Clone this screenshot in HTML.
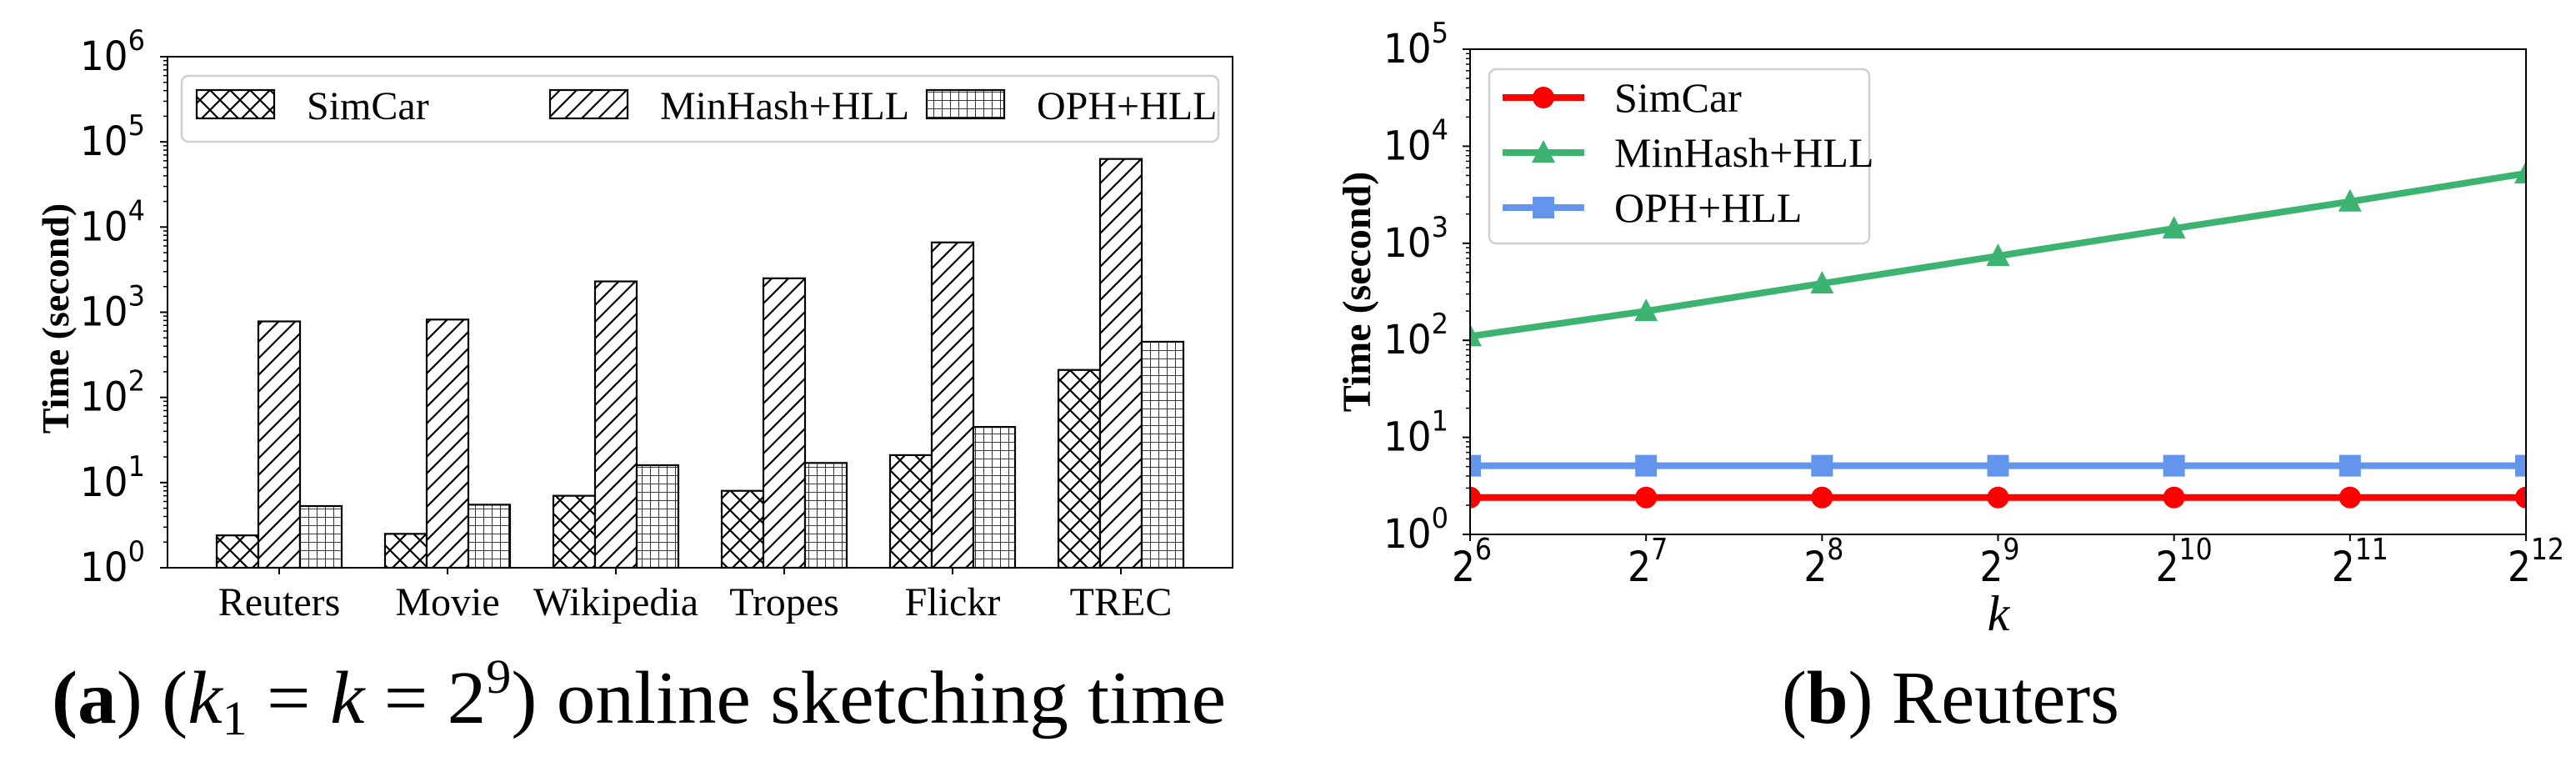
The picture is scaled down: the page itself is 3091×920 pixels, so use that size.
<!DOCTYPE html>
<html><head><meta charset="utf-8"><style>
html,body{margin:0;padding:0;background:#fff;}
svg{display:block;}
</style></head><body>
<svg id="root" width="3091" height="920" viewBox="0 0 3091 920" xmlns="http://www.w3.org/2000/svg">
<defs>
<pattern id="pat-cross" patternUnits="userSpaceOnUse" width="24" height="24">
<path d="M0,0 L24,24 M24,0 L0,24" stroke="#000" stroke-width="2.2"/>
</pattern>
<pattern id="pat-diag" patternUnits="userSpaceOnUse" width="20" height="20">
<path d="M-5,5 L5,-5 M0,20 L20,0 M15,25 L25,15" stroke="#000" stroke-width="2.2"/>
</pattern>
<pattern id="pat-grid" patternUnits="userSpaceOnUse" width="10" height="10">
<path d="M0,0 L10,0 M0,0 L0,10" stroke="#000" stroke-width="1.6"/>
</pattern>
<clipPath id="clipB"><rect x="1764" y="59" width="1267" height="582"/></clipPath>
</defs>
<g id="chartA"></g>
<g id="chartB"></g>
<text x="62" y="867" textLength="1409" lengthAdjust="spacingAndGlyphs" font-family="Liberation Serif, serif" font-size="90"><tspan font-weight="bold">(a</tspan>) (<tspan font-style="italic">k</tspan><tspan font-size="58" dy="14">1</tspan><tspan dy="-14"> = </tspan><tspan font-style="italic">k</tspan> = 2<tspan font-size="58" dy="-36">9</tspan><tspan dy="36">) online sketching time</tspan></text>
<text x="2138" y="867" textLength="405" lengthAdjust="spacingAndGlyphs" font-family="Liberation Serif, serif" font-size="90">(<tspan font-weight="bold">b</tspan>) Reuters</text>
</svg>
<script>
// ---- Chart A data ----
const catsA = ['Reuters','Movie','Wikipedia','Tropes','Flickr','TREC'];
const simcarA = [2.4, 2.5, 7, 8, 21, 210];
const minhashA = [780, 820, 2300, 2500, 6600, 63000];
const ophA = [5.3, 5.5, 16, 17, 45, 450];
const seriesNamesA = ['SimCar','MinHash+HLL','OPH+HLL'];
const yTicksA = [0,1,2,3,4,5,6];
// ---- Chart B data ----
const kExp = [6,7,8,9,10,11,12];
const simcarB = [2.4, 2.4, 2.4, 2.4, 2.4, 2.4, 2.4];
const minhashB = [110, 200, 385, 740, 1420, 2690, 5250];
const ophB = [5.1, 5.1, 5.1, 5.1, 5.1, 5.1, 5.1];
const yTicksB = [0,1,2,3,4,5];

const NS='http://www.w3.org/2000/svg';
function mk(tag, attrs, parent, txt){const e=document.createElementNS(NS,tag);for(const k in attrs)e.setAttribute(k,attrs[k]);if(txt!==undefined)e.textContent=txt;parent.appendChild(e);return e;}

// ---------- Chart A ----------
(function(){
const g=document.getElementById('chartA');
const L=201,R=1479,T=68,B=681;
const y=v=>B-(Math.log10(v)-0)*(B-T)/6;
const gx=i=>335+i*202;
const bw=50;
const pats=['url(#pat-cross)','url(#pat-diag)','url(#pat-grid)'];
const data=[simcarA,minhashA,ophA];
data.forEach((arr,s)=>{arr.forEach((v,i)=>{
  const x=gx(i)+(s-1)*bw-bw/2;
  const bg=mk('rect',{x:x,y:y(v),width:bw,height:B-y(v),fill:'#fff',stroke:'none'},g);
  
  
  const r=mk('rect',{x:x,y:y(v),width:bw,height:B-y(v),fill:pats[s],stroke:'#000','stroke-width':2.2},g);
  
  
});});
const frame=mk('rect',{x:L,y:T,width:R-L,height:B-T,fill:'none',stroke:'#000','stroke-width':2},g);


yTicksA.forEach(e=>{
  const yy=y(Math.pow(10,e));
  mk('line',{x1:L-9,x2:L,y1:yy,y2:yy,stroke:'#000','stroke-width':2},g);
  const t=mk('text',{x:96,y:yy+16,textLength:78,lengthAdjust:'spacingAndGlyphs','font-family':'DejaVu Sans, sans-serif','font-size':48},g);
  
  
  mk('tspan',{},t,'10');
  mk('tspan',{'font-size':34,dy:-24},t,String(e));
  if(e<6){for(let m=2;m<10;m++){const ym=y(m*Math.pow(10,e));mk('line',{x1:L-5,x2:L,y1:ym,y2:ym,stroke:'#000','stroke-width':1.5},g);}}
});
catsA.forEach((c,i)=>{
  mk('line',{x1:gx(i),x2:gx(i),y1:B,y2:B+8,stroke:'#000','stroke-width':2},g);
  const t=mk('text',{x:gx(i),y:738,'text-anchor':'middle','font-family':'Liberation Serif, serif','font-size':48},g,c);
  
  
});
const yt=mk('text',{x:0,y:0,transform:'translate(82,382) rotate(-90)','text-anchor':'middle','font-family':'Liberation Serif, serif','font-size':46,'font-weight':'bold'},g,'Time (second)');


const lg=mk('g',{},g);


mk('rect',{x:218,y:91,width:1244,height:79,rx:8,fill:'#fff',stroke:'#d0d0d0','stroke-width':2.5},lg);
const lx=[236,660,1112];
seriesNamesA.forEach((n,s)=>{
  const le=mk('g',{},lg);
  
  
  mk('rect',{x:lx[s],y:108,width:93,height:34,fill:'#fff'},le);
  mk('rect',{x:lx[s],y:108,width:93,height:34,fill:pats[s],stroke:'#000','stroke-width':2.2},le);
  mk('text',{x:lx[s]+132,y:143,'font-family':'Liberation Serif, serif','font-size':48},le,n);
});
})();

// ---------- Chart B ----------
(function(){
const g=document.getElementById('chartB');
const L=1764,R=3031,T=59,B=641;
const x=e=>L+(e-6)*(R-L)/6;
const y=v=>B-Math.log10(v)*(B-T)/5;
const series=[{n:'SimCar',d:simcarB,c:'#ff0000',m:'circle'},{n:'MinHash+HLL',d:minhashB,c:'#3cb371',m:'tri'},{n:'OPH+HLL',d:ophB,c:'#6495ed',m:'sq'}];
function marker(par,m,cx,cy,c){
  if(m==='circle')return mk('circle',{cx:cx,cy:cy,r:13,fill:c},par);
  if(m==='tri')return mk('polygon',{points:`${cx},${cy-15} ${cx-14},${cy+12} ${cx+14},${cy+12}`,fill:c},par);
  return mk('rect',{x:cx-13,y:cy-13,width:26,height:26,fill:c},par);
}
const pg=mk('g',{'clip-path':'url(#clipB)'},g);
[2,0,1].forEach(si=>{const s=series[si];
  const pts=s.d.map((v,i)=>x(kExp[i])+','+y(v)).join(' ');
  const pl=mk('polyline',{points:pts,fill:'none',stroke:s.c,'stroke-width':8},pg);
  
  
  s.d.forEach((v,i)=>{const mm=marker(pg,s.m,x(kExp[i]),y(v),s.c);
    
    });
});
const frame=mk('rect',{x:L,y:T,width:R-L,height:B-T,fill:'none',stroke:'#000','stroke-width':2},g);


yTicksB.forEach(e=>{
  const yy=y(Math.pow(10,e));
  mk('line',{x1:L-9,x2:L,y1:yy,y2:yy,stroke:'#000','stroke-width':2},g);
  const t=mk('text',{x:1660,y:yy+16,textLength:78,lengthAdjust:'spacingAndGlyphs','font-family':'DejaVu Sans, sans-serif','font-size':48},g);
  
  
  mk('tspan',{},t,'10');
  mk('tspan',{'font-size':34,dy:-24},t,String(e));
  if(e<5){for(let m=2;m<10;m++){const ym=y(m*Math.pow(10,e));mk('line',{x1:L-5,x2:L,y1:ym,y2:ym,stroke:'#000','stroke-width':1.5},g);}}
});
kExp.forEach(e=>{
  mk('line',{x1:x(e),x2:x(e),y1:B,y2:B+8,stroke:'#000','stroke-width':2},g);
  const w=e>=10?68:48;
  const t=mk('text',{x:x(e)-22,y:697,textLength:w,lengthAdjust:'spacingAndGlyphs','font-family':'DejaVu Sans, sans-serif','font-size':50},g);
  
  
  mk('tspan',{},t,'2');
  mk('tspan',{'font-size':36,dy:-26},t,String(e));
});
const xt=mk('text',{x:2398,y:756,'text-anchor':'middle','font-family':'Liberation Serif, serif','font-size':60,'font-style':'italic'},g,'k');


const yt=mk('text',{x:0,y:0,transform:'translate(1644,350) rotate(-90)','text-anchor':'middle','font-family':'Liberation Serif, serif','font-size':48,'font-weight':'bold'},g,'Time (second)');


const lg=mk('g',{},g);


mk('rect',{x:1787,y:83,width:456,height:209,rx:8,fill:'#fff',stroke:'#d0d0d0','stroke-width':2.5},lg);
const ry=[117,183,249];
series.forEach((s,i)=>{
  const le=mk('g',{},lg);
  
  
  mk('line',{x1:1803,x2:1901,y1:ry[i],y2:ry[i],stroke:s.c,'stroke-width':8},le);
  marker(le,s.m,1852,ry[i],s.c);
  mk('text',{x:1937,y:ry[i]+17,'font-family':'Liberation Serif, serif','font-size':50},le,s.n);
});
})();
</script>
</body></html>
